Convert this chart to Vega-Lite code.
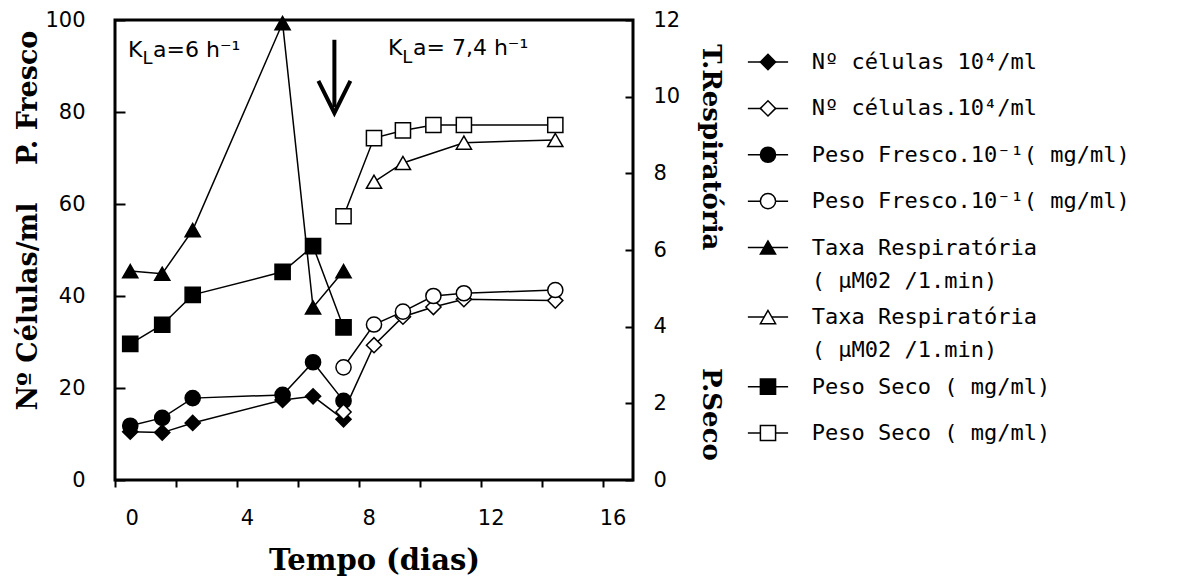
{
  "$schema": "https://vega.github.io/schema/vega-lite/v6.json",
  "width": 518,
  "height": 460,
  "autosize": {"type": "none"},
  "padding": {"left": 115, "top": 20, "right": 544, "bottom": 102},
  "background": "white",
  "config": {
    "view": {"stroke": "black", "strokeWidth": 3},
    "axis": {
      "grid": false, "domain": false, "tickColor": "black", "tickWidth": 2,
      "labelColor": "black", "titleColor": "black",
      "labelFont": "DejaVu Sans", "labelFontSize": 21,
      "titleFont": "DejaVu Serif", "titleFontSize": 26, "titleFontWeight": "bold"
    }
  },
  "datasets": {
    "series": [
      {"s": "c1", "x": 0.5, "v": 10.5}, {"s": "c1", "x": 1.55, "v": 10.3}, {"s": "c1", "x": 2.55, "v": 12.4}, {"s": "c1", "x": 5.5, "v": 17.4}, {"s": "c1", "x": 6.5, "v": 18.2}, {"s": "c1", "x": 7.5, "v": 13.2},
      {"s": "f1", "x": 0.5, "v": 11.8}, {"s": "f1", "x": 1.55, "v": 13.5}, {"s": "f1", "x": 2.55, "v": 17.8}, {"s": "f1", "x": 5.5, "v": 18.5}, {"s": "f1", "x": 6.5, "v": 25.6}, {"s": "f1", "x": 7.5, "v": 17.2},
      {"s": "c2", "x": 7.5, "v": 14.8}, {"s": "c2", "x": 8.5, "v": 29.3}, {"s": "c2", "x": 9.45, "v": 35.5}, {"s": "c2", "x": 10.45, "v": 37.6}, {"s": "c2", "x": 11.45, "v": 39.3}, {"s": "c2", "x": 14.45, "v": 39.0},
      {"s": "f2", "x": 7.5, "v": 24.5}, {"s": "f2", "x": 8.5, "v": 33.8}, {"s": "f2", "x": 9.45, "v": 36.6}, {"s": "f2", "x": 10.45, "v": 40.0}, {"s": "f2", "x": 11.45, "v": 40.6}, {"s": "f2", "x": 14.45, "v": 41.3},
      {"s": "r1", "x": 0.5, "v": 5.45}, {"s": "r1", "x": 1.55, "v": 5.38}, {"s": "r1", "x": 2.55, "v": 6.52}, {"s": "r1", "x": 5.5, "v": 11.92}, {"s": "r1", "x": 6.5, "v": 4.5}, {"s": "r1", "x": 7.5, "v": 5.45},
      {"s": "r2", "x": 8.5, "v": 7.78}, {"s": "r2", "x": 9.45, "v": 8.27}, {"s": "r2", "x": 11.45, "v": 8.8}, {"s": "r2", "x": 14.45, "v": 8.87},
      {"s": "s1", "x": 0.5, "v": 3.55}, {"s": "s1", "x": 1.55, "v": 4.05}, {"s": "s1", "x": 2.55, "v": 4.83}, {"s": "s1", "x": 5.5, "v": 5.43}, {"s": "s1", "x": 6.5, "v": 6.1}, {"s": "s1", "x": 7.5, "v": 3.98},
      {"s": "s2", "x": 7.5, "v": 6.88}, {"s": "s2", "x": 8.5, "v": 8.92}, {"s": "s2", "x": 9.45, "v": 9.12}, {"s": "s2", "x": 10.45, "v": 9.26}, {"s": "s2", "x": 11.45, "v": 9.26}, {"s": "s2", "x": 14.45, "v": 9.26}
    ],
    "legend": [
      {"s": "c1", "t1": "Nº células 10⁴/ml", "t2": ""},
      {"s": "c2", "t1": "Nº células.10⁴/ml", "t2": ""},
      {"s": "f1", "t1": "Peso Fresco.10⁻¹( mg/ml)", "t2": ""},
      {"s": "f2", "t1": "Peso Fresco.10⁻¹( mg/ml)", "t2": ""},
      {"s": "r1", "t1": "Taxa Respiratória", "t2": "\u00a0( µM02 /1.min)"},
      {"s": "r2", "t1": "Taxa Respiratória", "t2": "\u00a0( µM02 /1.min)"},
      {"s": "s1", "t1": "Peso Seco ( mg/ml)", "t2": ""},
      {"s": "s2", "t1": "Peso Seco ( mg/ml)", "t2": ""}
    ]
  },
  "data": {"name": "series"},
  "layer": [
    {
      "transform": [{"filter": {"field": "s", "oneOf": ["c1", "c2", "f1", "f2"]}}],
      "layer": [
        {
          "mark": {"type": "line", "stroke": "black", "strokeWidth": 1.5},
          "encoding": {
            "x": {"field": "x", "type": "quantitative", "title": "Tempo (dias)", "scale": {"domain": [0, 17], "nice": false, "zero": false},
              "axis": {"values": [0, 2, 4, 6, 8, 10, 12, 14, 16], "labelExpr": "datum.value % 4 === 0 ? datum.label : ''", "tickSize": 7, "labelPadding": 20, "labelOffset": 10, "titleY": 80, "titleBaseline": "middle", "titleFontSize": 29}},
            "y": {"field": "v", "type": "quantitative", "title": "Nº Células/ml\u00a0\u00a0\u00a0\u00a0P. Fresco", "scale": {"domain": [0, 100], "nice": false},
              "axis": {"values": [0, 20, 40, 60, 80, 100], "tickSize": -10, "labelPadding": 40, "titleAngle": -90, "titleX": -87, "titleY": 200, "titleAlign": "center", "titleBaseline": "middle", "titleFontSize": 27}},
            "detail": {"field": "s"}
          }
        },
        {
          "mark": {"type": "point", "filled": true, "stroke": "black", "strokeWidth": 1.5, "opacity": 1},
          "encoding": {
            "x": {"field": "x", "type": "quantitative", "title": "Tempo (dias)"},
            "y": {"field": "v", "type": "quantitative", "title": "Nº Células/ml\u00a0\u00a0\u00a0\u00a0P. Fresco"},
            "shape": {"field": "s", "type": "nominal", "legend": null,
              "scale": {"domain": ["c1", "c2", "f1", "f2", "r1", "r2", "s1", "s2"], "range": ["diamond", "diamond", "circle", "circle", "triangle-up", "triangle-up", "square", "square"]}},
            "fill": {"field": "s", "type": "nominal", "legend": null,
              "scale": {"domain": ["c1", "c2", "f1", "f2", "r1", "r2", "s1", "s2"], "range": ["black", "white", "black", "white", "black", "white", "black", "white"]}},
            "size": {"field": "s", "type": "nominal", "legend": null,
              "scale": {"domain": ["c1", "c2", "f1", "f2", "r1", "r2", "s1", "s2"], "range": [230, 230, 160, 160, 240, 240, 170, 170]}}
          }
        },
        {
          "data": {"values": [{}]},
          "mark": {"type": "rule", "stroke": "black", "strokeWidth": 4},
          "encoding": {
            "x": {"datum": 7.2, "type": "quantitative", "title": "Tempo (dias)"},
            "y": {"datum": 95.7, "type": "quantitative", "title": "Nº Células/ml\u00a0\u00a0\u00a0\u00a0P. Fresco"},
            "y2": {"datum": 81}
          }
        },
        {
          "data": {"values": [{}]},
          "mark": {"type": "point", "shape": "M-1,-2L0,0L1,-2", "filled": false, "stroke": "black", "strokeWidth": 4, "size": 1024, "opacity": 1},
          "encoding": {
            "x": {"datum": 7.2, "type": "quantitative", "title": "Tempo (dias)"},
            "y": {"datum": 79.8, "type": "quantitative", "title": "Nº Células/ml\u00a0\u00a0\u00a0\u00a0P. Fresco"}
          }
        },
        {
          "data": {"values": [{}]},
          "mark": {"type": "text", "text": "K", "align": "left", "baseline": "alphabetic", "font": "DejaVu Sans", "fontSize": 22, "color": "black"},
          "encoding": {"x": {"datum": 0.43, "type": "quantitative", "title": "Tempo (dias)"}, "y": {"datum": 92, "type": "quantitative", "title": "Nº Células/ml\u00a0\u00a0\u00a0\u00a0P. Fresco"}}
        },
        {
          "data": {"values": [{}]},
          "mark": {"type": "text", "text": "L", "align": "left", "baseline": "alphabetic", "font": "DejaVu Sans", "fontSize": 18, "color": "black"},
          "encoding": {"x": {"datum": 0.9, "type": "quantitative", "title": "Tempo (dias)"}, "y": {"datum": 90.5, "type": "quantitative", "title": "Nº Células/ml\u00a0\u00a0\u00a0\u00a0P. Fresco"}}
        },
        {
          "data": {"values": [{}]},
          "mark": {"type": "text", "text": "a=6 h⁻¹", "align": "left", "baseline": "alphabetic", "font": "DejaVu Sans", "fontSize": 22, "color": "black"},
          "encoding": {"x": {"datum": 1.25, "type": "quantitative", "title": "Tempo (dias)"}, "y": {"datum": 92, "type": "quantitative", "title": "Nº Células/ml\u00a0\u00a0\u00a0\u00a0P. Fresco"}}
        },
        {
          "data": {"values": [{}]},
          "mark": {"type": "text", "text": "K", "align": "left", "baseline": "alphabetic", "font": "DejaVu Sans", "fontSize": 22, "color": "black"},
          "encoding": {"x": {"datum": 8.96, "type": "quantitative", "title": "Tempo (dias)"}, "y": {"datum": 92.4, "type": "quantitative", "title": "Nº Células/ml\u00a0\u00a0\u00a0\u00a0P. Fresco"}}
        },
        {
          "data": {"values": [{}]},
          "mark": {"type": "text", "text": "L", "align": "left", "baseline": "alphabetic", "font": "DejaVu Sans", "fontSize": 18, "color": "black"},
          "encoding": {"x": {"datum": 9.43, "type": "quantitative", "title": "Tempo (dias)"}, "y": {"datum": 90.7, "type": "quantitative", "title": "Nº Células/ml\u00a0\u00a0\u00a0\u00a0P. Fresco"}}
        },
        {
          "data": {"values": [{}]},
          "mark": {"type": "text", "text": "a= 7,4 h⁻¹", "align": "left", "baseline": "alphabetic", "font": "DejaVu Sans", "fontSize": 22, "color": "black"},
          "encoding": {"x": {"datum": 9.78, "type": "quantitative", "title": "Tempo (dias)"}, "y": {"datum": 92.4, "type": "quantitative", "title": "Nº Células/ml\u00a0\u00a0\u00a0\u00a0P. Fresco"}}
        }
      ]
    },
    {
      "transform": [{"filter": {"field": "s", "oneOf": ["r1", "r2", "s1", "s2"]}}],
      "layer": [
        {
          "mark": {"type": "line", "stroke": "black", "strokeWidth": 1.5},
          "encoding": {
            "x": {"field": "x", "type": "quantitative", "title": "Tempo (dias)"},
            "y": {"field": "v", "type": "quantitative", "title": "T.Respiratória\u00a0\u00a0\u00a0\u00a0\u00a0\u00a0\u00a0\u00a0\u00a0\u00a0\u00a0\u00a0\u00a0P.Seco", "scale": {"domain": [0, 12], "nice": false},
              "axis": {"orient": "right", "values": [0, 2, 4, 6, 8, 10, 12], "tickSize": -8, "labelPadding": 28, "labelAlign": "left", "titleAngle": 90, "titleX": 77, "titleY": 232, "titleAlign": "center", "titleBaseline": "middle"}},
            "detail": {"field": "s"}
          }
        },
        {
          "mark": {"type": "point", "filled": true, "stroke": "black", "strokeWidth": 1.5, "opacity": 1},
          "encoding": {
            "x": {"field": "x", "type": "quantitative", "title": "Tempo (dias)"},
            "y": {"field": "v", "type": "quantitative", "title": "T.Respiratória\u00a0\u00a0\u00a0\u00a0\u00a0\u00a0\u00a0\u00a0\u00a0\u00a0\u00a0\u00a0\u00a0P.Seco"},
            "shape": {"field": "s", "type": "nominal", "legend": null},
            "fill": {"field": "s", "type": "nominal", "legend": null},
            "size": {"field": "s", "type": "nominal", "legend": null}
          }
        }
      ]
    },
    {
      "data": {"name": "legend"},
      "encoding": {
        "y": {"field": "s", "type": "nominal", "axis": null,
          "scale": {"type": "point", "domain": ["c1", "p1", "c2", "p2", "f1", "p3", "f2", "p4", "r1", "p5", "p6", "r2", "p7", "p8", "s1", "p9", "s2"], "range": [42, 413], "padding": 0}}
      },
      "layer": [
        {
          "mark": {"type": "rule", "stroke": "black", "strokeWidth": 1.5},
          "encoding": {
            "x": {"datum": 20.77, "type": "quantitative", "title": "Tempo (dias)"},
            "x2": {"datum": 22.09}
          }
        },
        {
          "mark": {"type": "point", "filled": true, "stroke": "black", "strokeWidth": 1.5, "opacity": 1},
          "encoding": {
            "x": {"datum": 21.43, "type": "quantitative", "title": "Tempo (dias)"},
            "shape": {"field": "s", "type": "nominal", "legend": null},
            "fill": {"field": "s", "type": "nominal", "legend": null},
            "size": {"field": "s", "type": "nominal", "legend": null}
          }
        },
        {
          "mark": {"type": "text", "align": "left", "baseline": "middle", "font": "DejaVu Sans Mono", "fontSize": 22, "color": "black"},
          "encoding": {
            "x": {"datum": 22.87, "type": "quantitative", "title": "Tempo (dias)"},
            "text": {"field": "t1"}
          }
        },
        {
          "mark": {"type": "text", "align": "left", "baseline": "middle", "font": "DejaVu Sans Mono", "fontSize": 22, "color": "black", "dy": 33},
          "encoding": {
            "x": {"datum": 22.87, "type": "quantitative", "title": "Tempo (dias)"},
            "text": {"field": "t2"}
          }
        }
      ]
    }
  ],
  "resolve": {"scale": {"y": "independent"}}
}
